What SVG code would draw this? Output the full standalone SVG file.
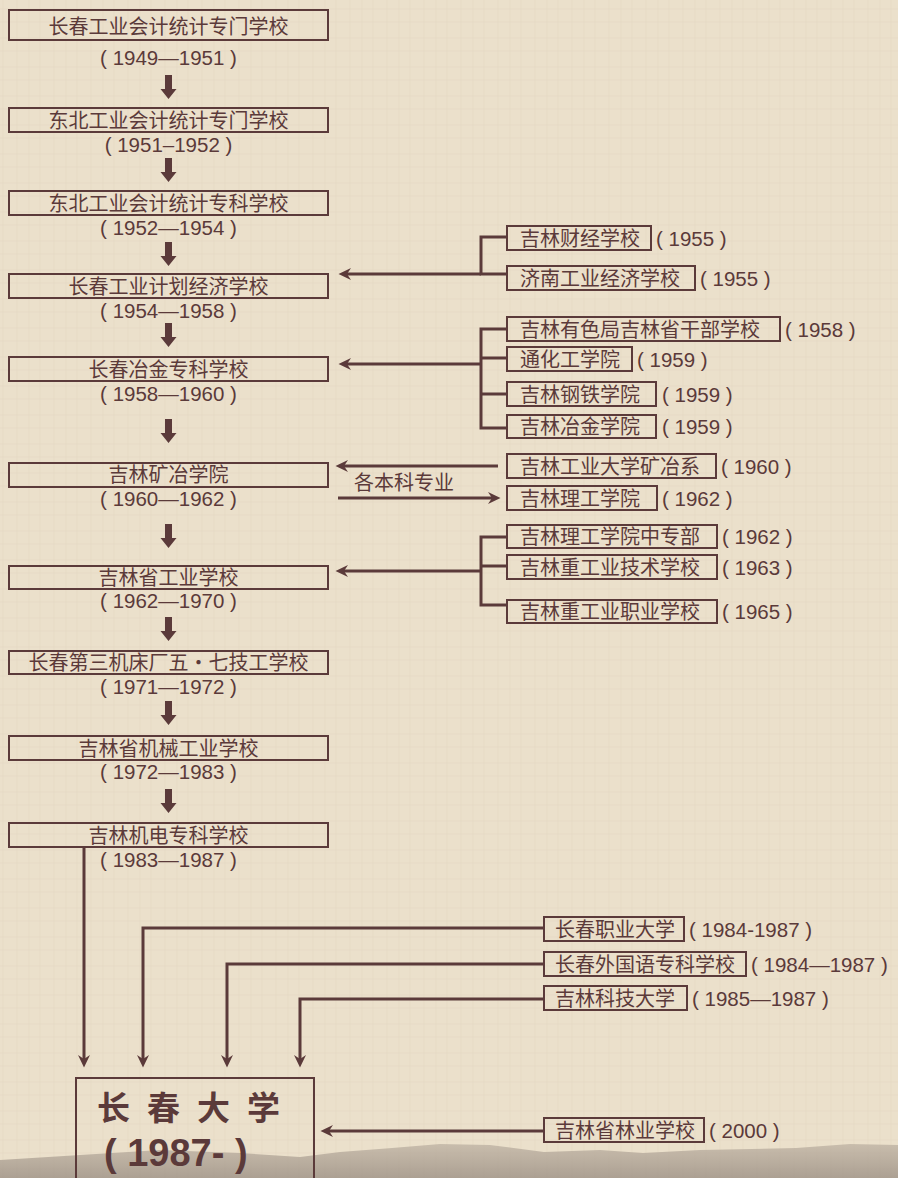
<svg xmlns="http://www.w3.org/2000/svg" width="898" height="1178" viewBox="0 0 898 1178">
<defs>
<style>
.bx{fill:none;stroke:#5b3a3a;stroke-width:2}
.ln{fill:none;stroke:#5b3a3a;stroke-width:3}
.cn{font-family:"Noto Sans CJK SC","Noto Sans",sans-serif;font-size:20px;fill:#5b3a3a}
.yr{font-family:"Liberation Sans","Noto Sans CJK SC",sans-serif;font-size:20.5px;fill:#5b3a3a}
.mid{text-anchor:middle}
.big{font-family:"Noto Sans CJK SC","Liberation Sans",sans-serif;font-weight:bold;fill:#5b3a3a}
</style>
<marker id="ah" markerUnits="userSpaceOnUse" markerWidth="13" markerHeight="12" refX="4" refY="6" orient="auto">
<path d="M0,0 L12.5,6 L0,12 L4,6 z" fill="#5b3a3a"/>
</marker>
<path id="darr" d="M-3.5,0 h7 v14 h4.5 l-8,10 l-8,-10 h4.5 z" fill="#5b3a3a"/>
<pattern id="tex" width="37" height="29" patternUnits="userSpaceOnUse">
<rect width="37" height="29" fill="#ebe0cb"/>
<path d="M3,0 v29 M17,0 v29 M29,0 v29" stroke="#dccfb6" stroke-width="1" opacity="0.3"/>
<path d="M0,9 h37 M0,22 h37" stroke="#e0d3bd" stroke-width="1" opacity="0.35"/>
</pattern>
<linearGradient id="mtn" x1="0" y1="0" x2="0" y2="1">
<stop offset="0" stop-color="#bdb1a2"/>
<stop offset="1" stop-color="#978b80"/>
</linearGradient>
</defs>

<rect width="898" height="1178" fill="url(#tex)"/>
<path d="M0,1160 L80,1155 L160,1150 L240,1153 L300,1157 L340,1152 L392,1148 L440,1144 L490,1145 L544,1152 L600,1150 L643,1153 L700,1150 L796,1148 L850,1144 L898,1145 L898,1178 L0,1178 z" fill="url(#mtn)" opacity="0.75"/>

<g id="connectors">
<use href="#darr" x="168.5" y="75"/>
<use href="#darr" x="168.5" y="158"/>
<use href="#darr" x="168.5" y="242"/>
<use href="#darr" x="168.5" y="323"/>
<use href="#darr" x="168.5" y="419"/>
<use href="#darr" x="168.5" y="524"/>
<use href="#darr" x="168.5" y="617"/>
<use href="#darr" x="168.5" y="701"/>
<use href="#darr" x="168.5" y="789"/>
<path class="ln" d="M506,237 H481 V274 H506"/>
<path class="ln" d="M481,274 H347" marker-end="url(#ah)"/>
<path class="ln" d="M506,329 H481 V428 H506 M481,358 H506 M481,394 H506"/>
<path class="ln" d="M481,364 H347" marker-end="url(#ah)"/>
<path class="ln" d="M498,466 H344" marker-end="url(#ah)"/>
<path class="ln" d="M338,498 H492" marker-end="url(#ah)"/>
<path class="ln" d="M506,537 H481 V605 H506 M481,566 H506"/>
<path class="ln" d="M481,571 H344" marker-end="url(#ah)"/>
<path class="ln" d="M84,847 V1059" marker-end="url(#ah)"/>
<path class="ln" d="M544,928 H143 V1059" marker-end="url(#ah)"/>
<path class="ln" d="M544,964 H227 V1059" marker-end="url(#ah)"/>
<path class="ln" d="M544,999 H300 V1059" marker-end="url(#ah)"/>
<path class="ln" d="M544,1131 H329" marker-end="url(#ah)"/>
<text class="cn" x="354" y="490">各本科专业</text>
</g>

<g id="n1"><rect class="bx" x="9" y="10" width="319" height="30"/><text class="cn mid" x="168.5" y="34">长春工业会计统计专门学校</text><text class="yr mid" x="168.5" y="65">( 1949—1951 )</text></g>
<g id="n2"><rect class="bx" x="9" y="108" width="319" height="24"/><text class="cn mid" x="168.5" y="128">东北工业会计统计专门学校</text><text class="yr mid" x="168.5" y="152">( 1951–1952 )</text></g>
<g id="n3"><rect class="bx" x="9" y="191" width="319" height="24"/><text class="cn mid" x="168.5" y="211">东北工业会计统计专科学校</text><text class="yr mid" x="168.5" y="235">( 1952—1954 )</text></g>
<g id="n4"><rect class="bx" x="9" y="274" width="319" height="24"/><text class="cn mid" x="168.5" y="294">长春工业计划经济学校</text><text class="yr mid" x="168.5" y="318">( 1954—1958 )</text></g>
<g id="n5"><rect class="bx" x="9" y="357" width="319" height="24"/><text class="cn mid" x="168.5" y="377">长春冶金专科学校</text><text class="yr mid" x="168.5" y="401">( 1958—1960 )</text></g>
<g id="n6"><rect class="bx" x="9" y="463" width="319" height="24"/><text class="cn mid" x="168.5" y="482">吉林矿冶学院</text><text class="yr mid" x="168.5" y="506">( 1960—1962 )</text></g>
<g id="n7"><rect class="bx" x="9" y="566" width="319" height="23"/><text class="cn mid" x="168.5" y="585">吉林省工业学校</text><text class="yr mid" x="168.5" y="608">( 1962—1970 )</text></g>
<g id="n8"><rect class="bx" x="9" y="651" width="319" height="23"/><text class="cn mid" x="168.5" y="670">长春第三机床厂五・七技工学校</text><text class="yr mid" x="168.5" y="694">( 1971—1972 )</text></g>
<g id="n9"><rect class="bx" x="9" y="736" width="319" height="24"/><text class="cn mid" x="168.5" y="756">吉林省机械工业学校</text><text class="yr mid" x="168.5" y="779">( 1972—1983 )</text></g>
<g id="n10"><rect class="bx" x="9" y="823" width="319" height="24"/><text class="cn mid" x="168.5" y="843">吉林机电专科学校</text><text class="yr mid" x="168.5" y="867">( 1983—1987 )</text></g>

<g id="r1"><rect class="bx" x="507" y="226" width="144" height="24"/><text class="cn" x="520" y="246">吉林财经学校</text><text class="yr" x="656" y="246">( 1955 )</text></g>
<g id="r2"><rect class="bx" x="507" y="266" width="188" height="24"/><text class="cn" x="520" y="286">济南工业经济学校</text><text class="yr" x="700" y="286">( 1955 )</text></g>
<g id="r3"><rect class="bx" x="507" y="317" width="273" height="24"/><text class="cn" x="520" y="337">吉林有色局吉林省干部学校</text><text class="yr" x="785" y="337">( 1958 )</text></g>
<g id="r4"><rect class="bx" x="507" y="347" width="125" height="24"/><text class="cn" x="520" y="367">通化工学院</text><text class="yr" x="637" y="367">( 1959 )</text></g>
<g id="r5"><rect class="bx" x="507" y="382" width="149" height="24"/><text class="cn" x="520" y="402">吉林钢铁学院</text><text class="yr" x="662" y="402">( 1959 )</text></g>
<g id="r6"><rect class="bx" x="507" y="415" width="149" height="23"/><text class="cn" x="520" y="434">吉林冶金学院</text><text class="yr" x="662" y="434">( 1959 )</text></g>
<g id="r7"><rect class="bx" x="507" y="454" width="209" height="24"/><text class="cn" x="520" y="474">吉林工业大学矿冶系</text><text class="yr" x="721" y="474">( 1960 )</text></g>
<g id="r8"><rect class="bx" x="507" y="486" width="150" height="24"/><text class="cn" x="520" y="506">吉林理工学院</text><text class="yr" x="662" y="506">( 1962 )</text></g>
<g id="r9"><rect class="bx" x="507" y="525" width="210" height="23"/><text class="cn" x="520" y="544">吉林理工学院中专部</text><text class="yr" x="722" y="544">( 1962 )</text></g>
<g id="r10"><rect class="bx" x="507" y="555" width="210" height="24"/><text class="cn" x="520" y="575">吉林重工业技术学校</text><text class="yr" x="722" y="575">( 1963 )</text></g>
<g id="r11"><rect class="bx" x="507" y="600" width="210" height="23"/><text class="cn" x="520" y="619">吉林重工业职业学校</text><text class="yr" x="722" y="619">( 1965 )</text></g>

<g id="b1"><rect class="bx" x="544" y="917" width="140" height="24"/><text class="cn" x="555" y="937">长春职业大学</text><text class="yr" x="689" y="937">( 1984-1987 )</text></g>
<g id="b2"><rect class="bx" x="544" y="952" width="202" height="24"/><text class="cn" x="555" y="972">长春外国语专科学校</text><text class="yr" x="751" y="972">( 1984—1987 )</text></g>
<g id="b3"><rect class="bx" x="544" y="986" width="143" height="24"/><text class="cn" x="555" y="1006">吉林科技大学</text><text class="yr" x="692" y="1006">( 1985—1987 )</text></g>
<g id="b4"><rect class="bx" x="544" y="1118" width="160" height="24"/><text class="cn" x="555" y="1138">吉林省林业学校</text><text class="yr" x="709" y="1138">( 2000 )</text></g>

<g id="main"><rect class="bx" x="76" y="1078" width="238" height="120"/><text class="big" x="97" y="1120" font-size="33" letter-spacing="17">长春大学</text><text class="big" x="104" y="1166" font-size="38" style="font-family:'Liberation Sans','Noto Sans CJK SC',sans-serif">( 1987- )</text></g>
</svg>
